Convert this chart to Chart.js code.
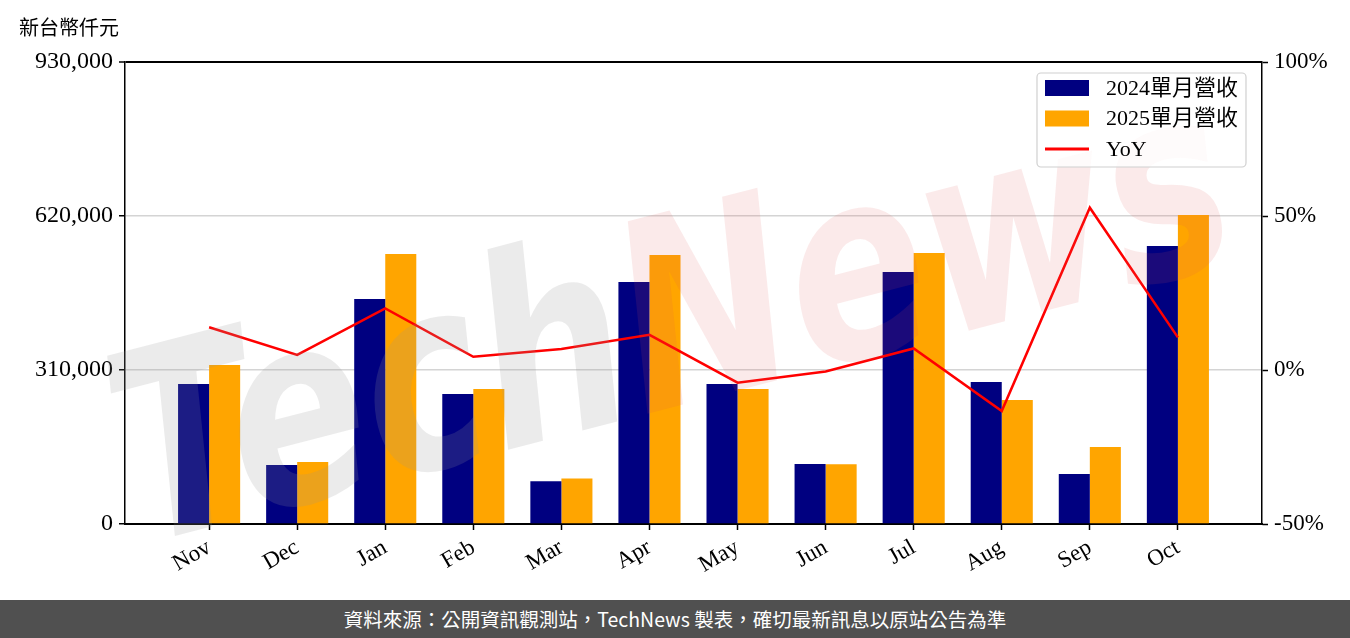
<!DOCTYPE html>
<html>
<head>
<meta charset="utf-8">
<script src="https://cdn.jsdelivr.net/npm/chart.js@4.4.1/dist/chart.umd.min.js"></script>
<style>
  body { margin: 0; background: #fff; width: 1350px; height: 638px; overflow: hidden; }
  #wrap { position: relative; width: 1350px; height: 600px; }
  #footer {
    height: 38px; background: #505050; color: #fff;
    font-family: "Noto Sans CJK TC", "Noto Sans", sans-serif; font-size: 19.5px;
    line-height: 38px; text-align: center;
  }
</style>
</head>
<body>
<div id="wrap"><canvas id="myChart" width="1350" height="600"></canvas></div>
<div id="footer">資料來源：公開資訊觀測站，TechNews 製表，確切最新訊息以原站公告為準</div>
<script>
'use strict';

// DATA
let months = ['Nov', 'Dec', 'Jan', 'Feb', 'Mar', 'Apr', 'May', 'Jun', 'Jul', 'Aug', 'Sep', 'Oct'];
let rev2024 = [281800, 118800, 452900, 261700, 86000, 487100, 281800, 120800, 507300, 285900, 100600, 559600];
let rev2025 = [320100, 124800, 543500, 271800, 91800, 541500, 271800, 120200, 545500, 249600, 155000, 622000];
let yoy = [13.9, 4.9, 20.0, 4.3, 6.8, 11.4, -4.1, -0.5, 7.0, -13.3, 52.7, 10.6];
let leftTicks = [0, 310000, 620000, 930000];
let rightTicks = [-50, 0, 50, 100];

let labels = ['2024單月營收', '2025單月營收', 'YoY'];
let unitTitle = '新台幣仟元';

const serif = '"Liberation Serif", "DejaVu Serif", "Noto Sans CJK TC", serif';

function toPoints(arr) {
  return arr.map((v, i) => ({ x: i, y: v }));
}

// title + watermark + legend drawn on the canvas
const extras = {
  id: 'extras',
  afterDraw(chart) {
    const ctx = chart.ctx;
    ctx.save();
    ctx.fillStyle = '#000';
    ctx.font = '20px "Noto Sans CJK TC", sans-serif';
    ctx.textBaseline = 'middle';
    ctx.textAlign = 'left';
    ctx.fillText(unitTitle, 19, 27);
    ctx.restore();

    // watermark
    ctx.save();
    ctx.translate(140, 545);
    ctx.rotate(-14.5 * Math.PI / 180);
    ctx.scale(0.82, 1.05);
    ctx.font = 'italic bold 250px "DejaVu Sans", sans-serif';
    ctx.textBaseline = 'alphabetic';
    ctx.fillStyle = 'rgba(150,150,150,0.19)';
    ctx.fillText('Tech', 0, 0);
    let w = ctx.measureText('Tech').width;
    ctx.fillStyle = 'rgba(220,80,80,0.12)';
    ctx.fillText('News', w, 0);
    ctx.restore();

    // legend
    ctx.save();
    let bx = 1037, by = 73, bw = 209, bh = 94;
    ctx.beginPath();
    ctx.roundRect(bx, by, bw, bh, 4);
    ctx.fillStyle = 'rgba(255,255,255,0.8)';
    ctx.fill();
    ctx.strokeStyle = '#d0d0d0';
    ctx.lineWidth = 1.2;
    ctx.stroke();
    ctx.font = '22px ' + serif;
    ctx.textBaseline = 'middle';
    chart.data.datasets.forEach((ds, i) => {
      let cy = 88 + i * 30.5;
      if (ds.type === 'line') {
        ctx.strokeStyle = ds.borderColor;
        ctx.lineWidth = 3;
        ctx.beginPath();
        ctx.moveTo(1045, cy);
        ctx.lineTo(1089, cy);
        ctx.stroke();
      } else {
        ctx.fillStyle = ds.backgroundColor;
        ctx.fillRect(1045, cy - 8, 44, 16);
      }
      ctx.fillStyle = '#000';
      ctx.fillText(ds.label, 1106, cy + 1);
    });
    ctx.restore();
  }
};

const data = {
  datasets: [
    {
      type: 'bar',
      label: labels[0],
      data: toPoints(rev2024),
      backgroundColor: '#000080',
      yAxisID: 'y',
      order: 2
    },
    {
      type: 'bar',
      label: labels[1],
      data: toPoints(rev2025),
      backgroundColor: '#ffa500',
      yAxisID: 'y',
      order: 2
    },
    {
      type: 'line',
      label: labels[2],
      data: toPoints(yoy),
      borderColor: '#ff0000',
      backgroundColor: '#ff0000',
      borderWidth: 2.5,
      pointRadius: 0,
      tension: 0,
      yAxisID: 'y1',
      order: 1
    }
  ]
};

const config = {
  type: 'bar',
  data: data,
  options: {
    responsive: false,
    animation: false,
    layout: { padding: { top: 62, left: 0, right: 0, bottom: 0 } },
    datasets: {
      bar: { categoryPercentage: 0.705, barPercentage: 1 }
    },
    plugins: {
      legend: { display: false },
      tooltip: { enabled: false }
    },
    scales: {
      x: {
        type: 'linear',
        offset: false,
        min: -0.955,
        max: 11.955,
        afterBuildTicks: (scale) => {
          scale.ticks = months.map((m, i) => ({ value: i }));
        },
        afterFit: (scale) => { scale.height = 76; },
        ticks: {
          autoSkip: false,
          maxRotation: 30,
          minRotation: 30,
          padding: 4,
          color: '#000',
          font: { family: serif, size: 23 },
          callback: (v) => months[v]
        },
        grid: { drawOnChartArea: false, tickLength: 6, tickColor: '#000', tickWidth: 1.5, offset: false },
        border: { color: '#000', width: 2 }
      },
      y: {
        position: 'left',
        min: 0,
        max: 930000,
        afterBuildTicks: (scale) => {
          scale.ticks = leftTicks.map((v) => ({ value: v }));
        },
        afterFit: (scale) => { scale.width = 125; },
        ticks: {
          padding: 6,
          color: '#000',
          font: { family: serif, size: 24 },
          callback: (v) => v.toLocaleString('en-US')
        },
        grid: {
          color: (c) => (c.tick && c.tick.value === 930000 ? '#000' : '#d4d4d4'),
          lineWidth: (c) => (c.tick && c.tick.value === 930000 ? 2 : 1.5),
          tickLength: 6,
          tickColor: '#000',
          tickWidth: 1.5
        },
        border: { color: '#000', width: 1.5 }
      },
      y1: {
        position: 'right',
        min: -50,
        max: 100,
        afterBuildTicks: (scale) => {
          scale.ticks = rightTicks.map((v) => ({ value: v }));
        },
        afterFit: (scale) => { scale.width = 88; },
        ticks: {
          padding: 6,
          color: '#000',
          font: { family: serif, size: 23 },
          callback: (v) => v + '%'
        },
        grid: { drawOnChartArea: false, tickLength: 6, tickColor: '#000', tickWidth: 1.5 },
        border: { color: '#000', width: 1.5 }
      }
    }
  },
  plugins: [extras]
};

const myChart = new Chart(document.getElementById('myChart'), config);
</script>
</body>
</html>
